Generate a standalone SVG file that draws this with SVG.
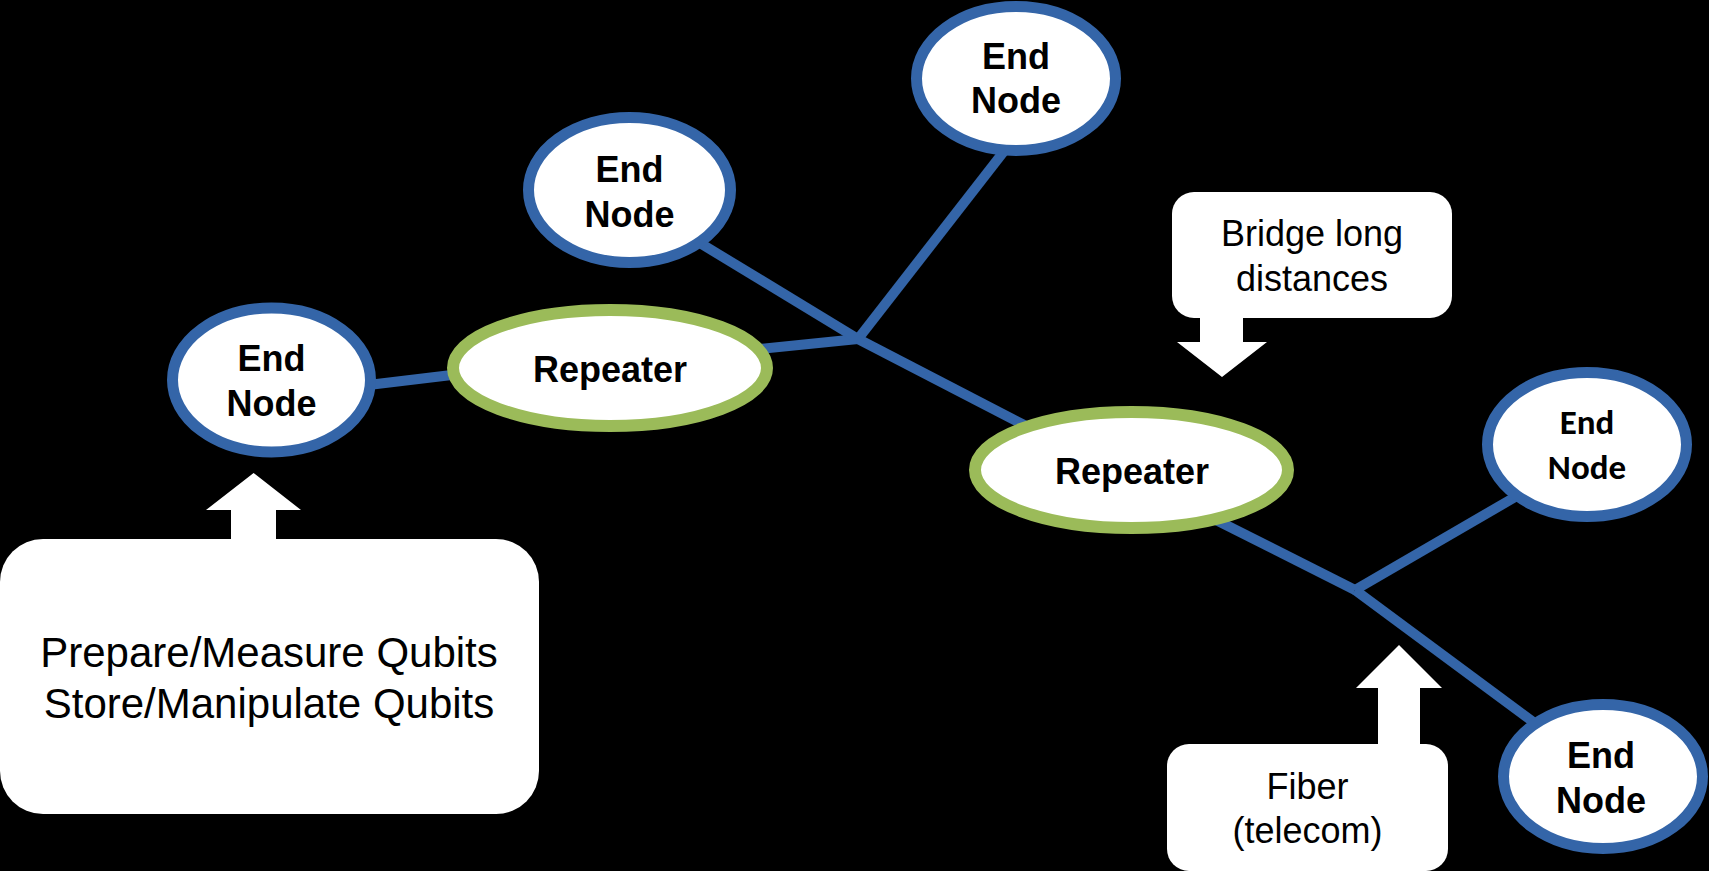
<svg xmlns="http://www.w3.org/2000/svg" width="1709" height="871" viewBox="0 0 1709 871">
<style>
.bg{fill:#000}
.end{fill:#fff;stroke:#3465a8;stroke-width:11}
.rep{fill:#fff;stroke:#9bbb59;stroke-width:12}
.link{stroke:#3465a8;stroke-width:10;fill:none}
.callout{fill:#fff}
.nt{font-family:"Liberation Sans",Arial,sans-serif;font-weight:bold;font-size:36px;fill:#000;text-anchor:middle}
.nc{font-family:Carlito,Lato,"Liberation Sans",sans-serif;font-weight:bold;font-size:35px;fill:#000;text-anchor:middle}
.ct{font-family:"Liberation Sans",Arial,sans-serif;font-size:36px;fill:#000;text-anchor:middle}
.cl{font-family:"Liberation Sans",Arial,sans-serif;font-size:42px;fill:#000;text-anchor:middle}
</style>
<rect class="bg" x="0" y="0" width="1709" height="871"/>
<g id="connectors">
<line class="link" x1="360" y1="386" x2="460" y2="374"/>
<line class="link" x1="740" y1="351" x2="858" y2="339"/>
<line class="link" x1="690" y1="237" x2="858" y2="339"/>
<line class="link" x1="1005" y1="150" x2="858" y2="339"/>
<line class="link" x1="858" y1="339" x2="1030" y2="428"/>
<line class="link" x1="1210" y1="517" x2="1355" y2="590"/>
<line class="link" x1="1355" y1="590" x2="1522" y2="493"/>
<line class="link" x1="1355" y1="590" x2="1540" y2="727"/>
</g>
<g id="end-left">
<ellipse class="end" cx="271.5" cy="380" rx="99" ry="72"/>
<text class="nt" x="271.5" y="371">End</text>
<text class="nt" x="271.5" y="416">Node</text>
</g>
<g id="end-top-mid">
<ellipse class="end" cx="629.5" cy="190" rx="101" ry="72.5"/>
<text class="nt" x="629.5" y="182">End</text>
<text class="nt" x="629.5" y="227">Node</text>
</g>
<g id="end-top-right">
<ellipse class="end" cx="1016" cy="78.5" rx="99.5" ry="72"/>
<text class="nt" x="1016" y="69">End</text>
<text class="nt" x="1016" y="113">Node</text>
</g>
<g id="end-right-mid">
<ellipse class="end" cx="1587" cy="444.5" rx="99.5" ry="72"/>
<text class="nc" x="1587" y="434">End</text>
<text class="nc" x="1587" y="479">Node</text>
</g>
<g id="end-bottom-right">
<ellipse class="end" cx="1603" cy="776.5" rx="99.5" ry="72"/>
<text class="nt" x="1601" y="768">End</text>
<text class="nt" x="1601" y="813">Node</text>
</g>
<g id="repeater-1">
<ellipse class="rep" cx="610" cy="368" rx="157" ry="58"/>
<text class="nt" x="610" y="382">Repeater</text>
</g>
<g id="repeater-2">
<ellipse class="rep" cx="1131.5" cy="470" rx="156.5" ry="58"/>
<text class="nt" x="1132" y="484">Repeater</text>
</g>
<g id="callout-qubits">
<polygon class="callout" points="253.6,473 301,510 276,510 276,541 231,541 231,510 206,510"/>
<rect class="callout" x="0" y="539" width="539" height="275" rx="43" ry="43"/>
<text class="cl" x="269" y="667">Prepare/Measure Qubits</text>
<text class="cl" x="269" y="717.5">Store/Manipulate Qubits</text>
</g>
<g id="callout-bridge">
<rect class="callout" x="1172" y="192" width="280" height="126" rx="22" ry="22"/>
<polygon class="callout" points="1200,316 1243,316 1243,342 1267,342 1222,377 1177,342 1200,342"/>
<text class="ct" x="1312" y="246">Bridge long</text>
<text class="ct" x="1312" y="291">distances</text>
</g>
<g id="callout-fiber">
<polygon class="callout" points="1378,746 1420,746 1420,688 1442,688 1399,645 1356,688 1378,688"/>
<rect class="callout" x="1167" y="744" width="281" height="127" rx="22" ry="22"/>
<text class="ct" x="1307.5" y="799">Fiber</text>
<text class="ct" x="1307.5" y="843">(telecom)</text>
</g>
</svg>
